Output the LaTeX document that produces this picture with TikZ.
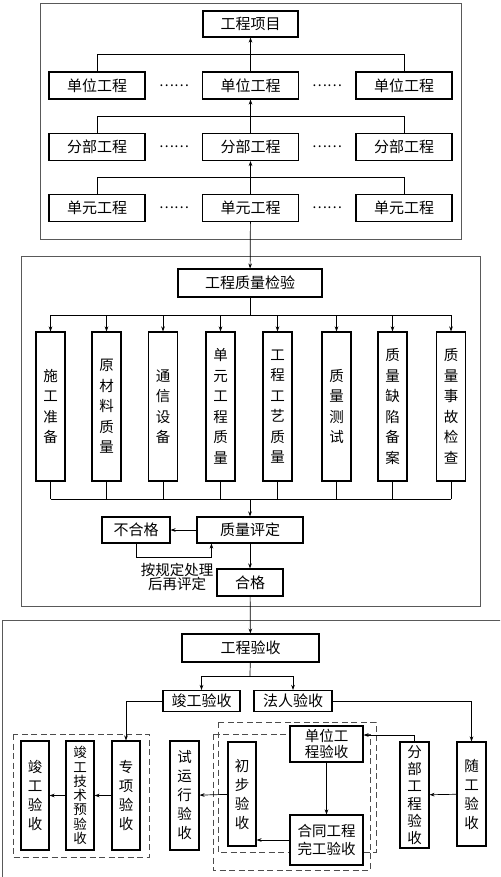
\documentclass[tikz,border=0pt]{standalone}
\usepackage{fontspec}
\newfontfamily\cjk{Noto Sans CJK SC}
\usetikzlibrary{arrows.meta,calc}
\tikzset{
  flowbox/.style={draw, line width=1.1pt, fill=white, align=center, inner sep=0pt,
    font=\cjk\fontsize{15}{17}\selectfont},
  flowvbox/.style={flowbox, minimum width=29pt, font=\cjk\fontsize{14.5}{19}\selectfont},
  flowarrow/.style={-{Stealth[length=5pt,width=3.6pt]}, line width=0.7pt},
  flowline/.style={line width=0.7pt},
  flowdots/.style={font=\cjk\fontsize{14}{17}\selectfont, inner sep=0pt},
  secframe/.style={draw=black!65, line width=1pt},
  groupbox/.style={draw=black!70, line width=0.9pt, dash pattern=on 6pt off 3.5pt},
}

\begin{document}
\begin{tikzpicture}[x=1pt, y=-1pt]
  \useasboundingbox (0,0) rectangle (500,877);
  \clip (0,0) rectangle (500,877);
  % section frames
  \draw[secframe] (40,4) rectangle (461,239);
  \draw[secframe] (21,256) rectangle (480,606);
  \draw[secframe] (2,900) |- (520,620);

  % project breakdown
  \node[flowbox, minimum width=95pt, minimum height=26pt] (proj) at (250.5,24) {工程项目};
  \foreach \row/\y/\lbl in {unit/85.5/单位工程, part/147/分部工程, elem/208/单元工程} {
    \foreach \col/\x in {1/97, 2/250.5, 3/404}
      \node[flowbox, minimum width=96pt, minimum height=27pt] (\row\col) at (\x,\y) {\lbl};
    \node[flowdots] (\row dl) at (174,\y) {……};
    \node[flowdots] (\row dr) at (327,\y) {……};
    \draw[flowline] (\row1.north) -- ++(0,-17) -| (\row3.north);
  }
  \draw[flowarrow] (unit2) -- (proj);
  \draw[flowarrow] (part2) -- (unit2);
  \draw[flowarrow] (elem2) -- (part2);

  % quality inspection
  \node[flowbox, minimum width=144pt, minimum height=28pt] (insp) at (250,283) {工程质量检验};
  \draw[flowarrow] (elem2) -- (insp);
  \foreach \i/\x/\lbl in {
      1/50.5/{施\\工\\准\\备},
      2/106.5/{原\\材\\料\\质\\量},
      3/163/{通\\信\\设\\备},
      4/220.5/{单\\元\\工\\程\\质\\量},
      5/277.5/{工\\程\\工\\艺\\质\\量},
      6/336.5/{质\\量\\测\\试},
      7/392.5/{质\\量\\缺\\陷\\备\\案},
      8/451/{质\\量\\事\\故\\检\\查}}
    \node[flowvbox, minimum height=149pt, font=\cjk\fontsize{14.5}{20.5}\selectfont] (item\i) at (\x,406.5) {\lbl};
  \coordinate (fanout) at (250,315);
  \coordinate (fanin) at (250,499);
  \draw[flowline] (insp) -- (fanout);
  \draw[flowline] (item1.north |- fanout) -- (item8.north |- fanout);
  \draw[flowline] (item1.south |- fanin) -- (item8.south |- fanin);
  \foreach \i in {1,...,8} {
    \draw[flowarrow] (item\i.north |- fanout) -- (item\i.north);
    \draw[flowline] (item\i.south) -- (item\i.south |- fanin);
  }
  \node[flowbox, minimum width=106pt, minimum height=26pt] (eval) at (250,530) {质量评定};
  \node[flowbox, minimum width=68pt, minimum height=26pt] (fail) at (136,530) {不合格};
  \node[flowbox, minimum width=66pt, minimum height=27pt] (pass) at (250,582.5) {合格};
  \node[font=\cjk\fontsize{14.5}{14.5}\selectfont, align=center, inner sep=0pt] (redo) at (177,577) {按规定处理\\后再评定};
  \draw[flowarrow] (fanin) -- (eval);
  \draw[flowarrow] (eval) -- (fail);
  \draw[flowarrow] (fail.south) -- ++(0,14) -| ([xshift=15pt]eval.south west);
  \draw[flowarrow] (eval) -- (pass);

  % acceptance
  \node[flowbox, minimum width=137pt, minimum height=28pt] (accept) at (250.5,648) {工程验收};
  \draw[flowarrow] (pass) -- (accept);
  \node[flowbox, minimum width=77pt, minimum height=21pt] (compl) at (201.5,701) {竣工验收};
  \node[flowbox, minimum width=78pt, minimum height=21pt] (legal) at (293,701) {法人验收};
  \coordinate (split) at (250,676);
  \draw[flowline] (accept) -- (split);
  \draw[flowarrow] (split) -| (compl);
  \draw[flowarrow] (split) -| (legal);

  \draw[groupbox] (13,734) rectangle (149,857);
  \draw[groupbox] (218,722) rectangle (376,852);
  \draw[groupbox] (213,734) rectangle (370,870);

  \node[flowvbox, minimum width=28pt, minimum height=109pt] (finalacc) at (35,795.5) {竣\\工\\验\\收};
  \node[flowvbox, minimum width=28pt, minimum height=109pt, font=\cjk\fontsize{13.5}{14.3}\selectfont] (techpre) at (80,795.5) {竣\\工\\技\\术\\预\\验\\收};
  \node[flowvbox, minimum width=28pt, minimum height=109pt] (special) at (126,795.5) {专\\项\\验\\收};
  \node[flowvbox, minimum height=109pt] (trialrun) at (184.5,795.5) {试\\运\\行\\验\\收};
  \node[flowvbox, minimum width=28pt, minimum height=104pt] (prelim) at (242,794) {初\\步\\验\\收};
  \node[flowbox, minimum width=73pt, minimum height=36pt, font=\cjk\fontsize{14.5}{16}\selectfont] (unitacc) at (326.5,744) {单位工\\程验收};
  \node[flowbox, minimum width=73pt, minimum height=50pt, font=\cjk\fontsize{14.5}{17.5}\selectfont] (contract) at (326.5,840) {合同工程\\完工验收};
  \node[flowvbox, minimum height=106pt, font=\cjk\fontsize{14.5}{17.3}\selectfont] (partacc) at (414.5,795) {分\\部\\工\\程\\验\\收};
  \node[flowvbox, minimum height=104pt] (withacc) at (471.5,794) {随\\工\\验\\收};

  \draw[flowarrow] (compl.west) -| (special.north);
  \draw[flowarrow] (legal.east) -| (withacc.north);
  \draw[flowarrow] (special) -- (techpre);
  \draw[flowarrow] (techpre) -- (finalacc);
  \draw[flowarrow] (prelim) -- (trialrun);
  \draw[flowarrow] (unitacc) -- (contract);
  \draw[flowarrow] (contract.west) -- (contract.west -| prelim.east);
  \draw[flowarrow] (withacc) -- (partacc);
  \draw[flowarrow] (partacc.north) |- ([yshift=9pt]unitacc.east);
\end{tikzpicture}
\end{document}
